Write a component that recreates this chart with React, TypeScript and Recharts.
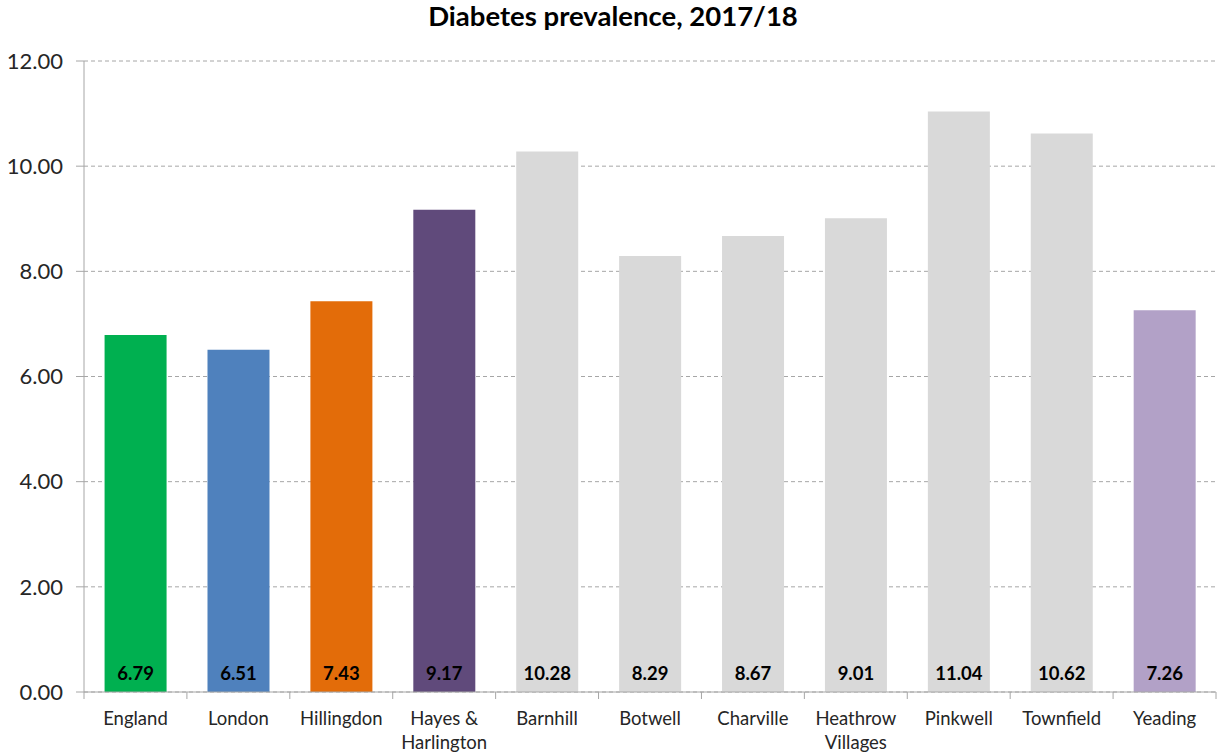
import { Bar, BarChart, CartesianGrid, Cell, LabelList, XAxis, YAxis } from "recharts"

const categories = [
    "England",
    "London",
    "Hillingdon",
    "Hayes &\nHarlington",
    "Barnhill",
    "Botwell",
    "Charville",
    "Heathrow\nVillages",
    "Pinkwell",
    "Townfield",
    "Yeading",
]
const prevalence = [6.79, 6.51, 7.43, 9.17, 10.28, 8.29, 8.67, 9.01, 11.04, 10.62, 7.26]
const barColors = [
    "#00B050",
    "#4F81BD",
    "#E36C09",
    "#604A7B",
    "#D9D9D9",
    "#D9D9D9",
    "#D9D9D9",
    "#D9D9D9",
    "#D9D9D9",
    "#D9D9D9",
    "#B2A1C7",
]
const yTicks = [0, 2, 4, 6, 8, 10, 12]

const data = categories.map((name, i) => ({ name, value: prevalence[i] }))

const W = 1217
const H = 756
const LEFT = 84
const RIGHT = 1
const band = (W - LEFT - RIGHT) / categories.length
const font = "Lato, 'Open Sans', sans-serif"

function CatTick(props: any) {
    const { x, y, payload, index } = props
    const lines = String(payload.value).split("\n")
    const last = index === categories.length - 1
    return (
        <g>
            <line x1={x - band / 2} x2={x - band / 2} y1={y} y2={y + 7} stroke="#a6a6a6" />
            {last && <line x1={x + band / 2} x2={x + band / 2} y1={y} y2={y + 7} stroke="#a6a6a6" />}
            {lines.map((l, i) => (
                <text key={i} x={x} y={y + 33 + i * 24} textAnchor="middle" fontSize={18.5} fill="#262626" fontFamily={font}>
                    {l}
                </text>
            ))}
        </g>
    )
}

function ValueLabel(props: any) {
    const { x, y, width, height, value } = props
    return (
        <text x={x + width / 2} y={y + height - 12} textAnchor="middle" fontSize={18.5} fontWeight="bold" fill="#000" fontFamily={font}>
            {Number(value).toFixed(2)}
        </text>
    )
}

export default function App() {
    return (
        <div style={{ position: "fixed", top: 0, left: 0, width: W, height: H, background: "#fff" }}>
            <svg width={W} height={40} style={{ position: "absolute", top: 0, left: 0 }}>
                <text x={613} y={26} textAnchor="middle" fontFamily={font} fontWeight="bold" fontSize={27.5} fill="#000">
                    Diabetes prevalence, 2017/18
                </text>
            </svg>
            <BarChart width={W} height={H} data={data} margin={{ top: 61, right: RIGHT, bottom: 0, left: 0 }} barCategoryGap="20%">
                <CartesianGrid vertical={false} stroke="#a6a6a6" strokeDasharray="4 3" />
                <YAxis
                    domain={[0, 12]}
                    ticks={yTicks}
                    width={LEFT}
                    interval={0}
                    tickSize={8}
                    tickMargin={13}
                    stroke="#a6a6a6"
                    tick={{ fill: "#262626", fontSize: 22, fontFamily: font }}
                    tickFormatter={(v: number) => v.toFixed(2)}
                />
                <XAxis
                    dataKey="name"
                    height={64}
                    interval={0}
                    tickSize={0}
                    tickMargin={0}
                    tickLine={false}
                    stroke="#a6a6a6"
                    tick={<CatTick />}
                />
                <Bar dataKey="value" isAnimationActive={false}>
                    {data.map((d, i) => (
                        <Cell key={d.name} fill={barColors[i]} />
                    ))}
                    <LabelList dataKey="value" content={<ValueLabel />} />
                </Bar>
            </BarChart>
        </div>
    )
}
